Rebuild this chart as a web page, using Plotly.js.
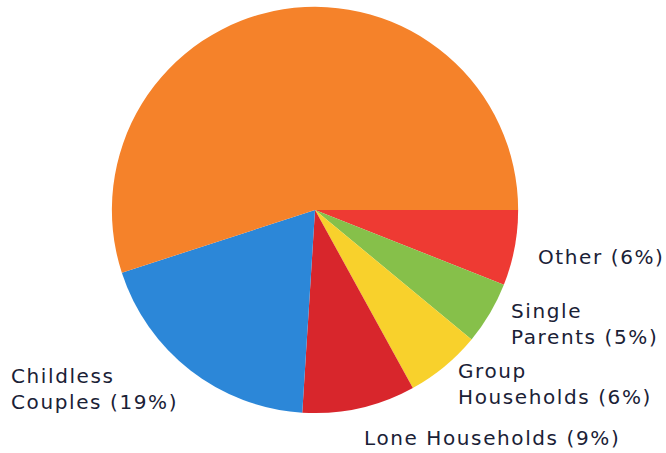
<!DOCTYPE html>
<html>
<head>
<meta charset="utf-8">
<script src="https://cdn.plot.ly/plotly-3.0.1.min.js"></script>
<style>html,body{margin:0;padding:0;background:#fff;}#chart{width:666px;height:453px;}
.annotation-text{letter-spacing:1.6px;}</style>
</head>
<body>
<div id="chart"></div>
<script>
const categories = ["Other", "Single Parents", "Group Households", "Lone Households", "Childless Couples", "Couples with Children"];
const values = [6, 5, 6, 9, 19, 55];
const sliceColors = ["#ee3a33", "#86c04a", "#f8d12c", "#d8262c", "#2c87d8", "#f5822a"];
const labelTexts = ["Other (6%)", "Single<br>Parents (5%)", "Group<br>Households (6%)", "Lone Households (9%)", "Childless<br>Couples (19%)"];
const labelX = [536, 509, 456, 362, 9];
const labelY = [257, 324, 384, 438, 389];

const W = 666, H = 453;
const annotations = labelTexts.map((t, i) => ({
  text: t, xref: "paper", yref: "paper",
  x: labelX[i] / W, y: 1 - labelY[i] / H,
  xanchor: "left", yanchor: "middle", align: "left", showarrow: false,
  font: {family: "DejaVu Sans, Verdana, sans-serif", size: 20, color: "#1a2136"}
}));

const trace = {
  type: "pie",
  labels: categories,
  values: values,
  sort: false,
  direction: "clockwise",
  rotation: 90,
  textinfo: "none",
  hoverinfo: "label+percent",
  marker: {colors: sliceColors, line: {width: 0}},
  domain: {x: [0.168, 0.778], y: [0.088, 0.985]},
  showlegend: false
};

Plotly.newPlot("chart", [trace], {
  width: W, height: H,
  margin: {l: 0, r: 0, t: 0, b: 0},
  paper_bgcolor: "#ffffff",
  showlegend: false,
  annotations: annotations
}, {displayModeBar: false, staticPlot: true});
</script>
</body>
</html>
